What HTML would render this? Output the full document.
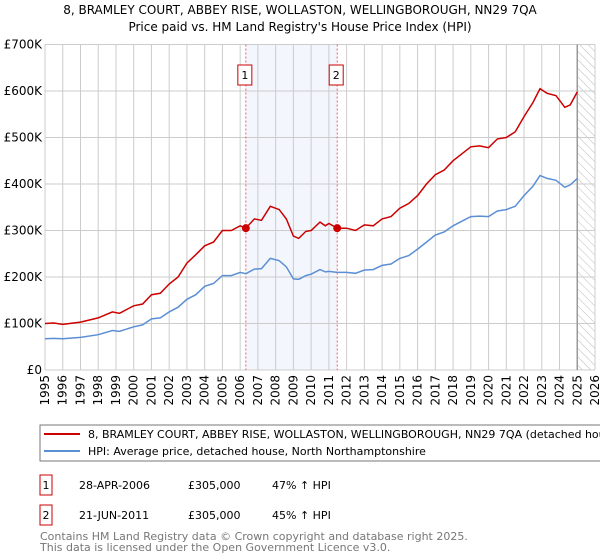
<!DOCTYPE html>
<html><head><meta charset="utf-8">
<style>
body{margin:0;background:#fff;font-family:"DejaVu Sans","Liberation Sans",sans-serif;}
#wrap{position:relative;width:600px;height:560px;overflow:hidden;}
text{font-family:"DejaVu Sans","Liberation Sans",sans-serif;}
</style></head><body>
<div id="wrap">
<svg id="chart" width="600" height="560">
<defs><pattern id="hatch" width="6" height="6" patternUnits="userSpaceOnUse" patternTransform="rotate(-45)"><line x1="0" y1="0" x2="0" y2="6" stroke="#bbb" stroke-width="1"/></pattern></defs>
<text x="300" y="14" text-anchor="middle" font-size="12" fill="#000">8, BRAMLEY COURT, ABBEY RISE, WOLLASTON, WELLINGBOROUGH, NN29 7QA</text>
<text x="300" y="31" text-anchor="middle" font-size="12" fill="#000">Price paid vs. HM Land Registry's House Price Index (HPI)</text>
<g id="plot"></g>
<rect x="40" y="425" width="575" height="36" fill="#fff" stroke="#777"/>
<line x1="44" y1="434" x2="80" y2="434" stroke="#cc0000" stroke-width="2"/>
<text x="88" y="438" font-size="11">8, BRAMLEY COURT, ABBEY RISE, WOLLASTON, WELLINGBOROUGH, NN29 7QA (detached house)</text>
<line x1="44" y1="451" x2="80" y2="451" stroke="#5b8fd4" stroke-width="2"/>
<text x="88" y="455" font-size="11">HPI: Average price, detached house, North Northamptonshire</text>
<g>
<rect x="40" y="475" width="12" height="20" fill="#fff" stroke="#cc0000"/>
<text x="46" y="489" font-size="11" text-anchor="middle">1</text>
<text x="79" y="489" font-size="11">28-APR-2006</text>
<text x="188" y="489" font-size="11">£305,000</text>
<text x="272" y="489" font-size="11">47% ↑ HPI</text></g>
<g>
<rect x="40" y="505" width="12" height="20" fill="#fff" stroke="#cc0000"/>
<text x="46" y="519" font-size="11" text-anchor="middle">2</text>
<text x="79" y="519" font-size="11">21-JUN-2011</text>
<text x="188" y="519" font-size="11">£305,000</text>
<text x="272" y="519" font-size="11">45% ↑ HPI</text></g>
<text x="40" y="540" font-size="11" fill="#777">Contains HM Land Registry data © Crown copyright and database right 2025.</text>
<text x="40" y="551" font-size="11" fill="#777">This data is licensed under the Open Government Licence v3.0.</text>
</svg>
</div>
<script>
const years=[1995,1995.5,1996,1997,1998,1998.8,1999.2,2000,2000.5,2001,2001.5,2002,2002.5,2003,2003.5,2004,2004.5,2005,2005.5,2006,2006.32,2006.8,2007.2,2007.7,2008.2,2008.6,2009,2009.3,2009.7,2010,2010.5,2010.8,2011,2011.47,2012,2012.5,2013,2013.5,2014,2014.5,2015,2015.5,2016,2016.5,2017,2017.5,2018,2018.5,2019,2019.5,2020,2020.5,2021,2021.5,2022,2022.5,2022.9,2023.3,2023.8,2024.3,2024.6,2025];
const propertyValues=[100,101,98,103,112,125,122,138,142,162,165,185,200,230,248,267,275,300,300,310,305,325,322,352,345,325,288,283,298,300,318,310,315,305,305,300,312,310,325,330,348,358,375,400,420,430,450,465,480,482,478,497,500,512,545,575,605,595,590,565,570,598];
const hpiValues=[67,68,67,70,76,85,83,93,97,110,112,125,135,152,162,180,186,203,203,210,207,217,218,240,235,222,196,195,203,206,216,211,212,210,210,208,215,216,225,228,240,246,260,275,290,297,310,320,330,331,330,342,345,352,375,395,418,412,408,393,398,412];
const yTicks=[0,100,200,300,400,500,600,700];
const yTickLabels=["£0","£100K","£200K","£300K","£400K","£500K","£600K","£700K"];
const xTicks=[1995,1996,1997,1998,1999,2000,2001,2002,2003,2004,2005,2006,2007,2008,2009,2010,2011,2012,2013,2014,2015,2016,2017,2018,2019,2020,2021,2022,2023,2024,2025,2026];
const sales=[{t:2006.32,v:305,label:"1"},{t:2011.47,v:305,label:"2"}];

const X0=45,X1=595,Y0=370,Y1=44.5,T0=1995,T1=2026,V1=700;
const xs=t=>X0+(t-T0)/(T1-T0)*(X1-X0);
const ys=v=>Y0-v/V1*(Y0-Y1);
const ns="http://www.w3.org/2000/svg";
const g=document.getElementById('plot');
function mk(tag,attrs,name){const e=document.createElementNS(ns,tag);for(const k in attrs)e.setAttribute(k,attrs[k]);


g.appendChild(e);return e;}
mk('rect',{x:xs(sales[0].t),y:Y1,width:xs(sales[1].t)-xs(sales[0].t),height:Y0-Y1,fill:'#f3f6fd'},'sale-period-shade');
mk('rect',{x:xs(2025),y:Y1,width:X1-xs(2025),height:Y0-Y1,fill:'url(#hatch)'},'forecast-hatch');
yTicks.forEach((v,i)=>{mk('line',{x1:X0,x2:X1,y1:ys(v),y2:ys(v),stroke:'#ccc'},'y-gridline');
const t=mk('text',{x:X0-3,y:ys(v)+4,'text-anchor':'end','font-size':12},'y-tick-label');t.textContent=yTickLabels[i];});
xTicks.forEach(t=>{mk('line',{x1:xs(t),x2:xs(t),y1:Y1,y2:Y0,stroke:'#ccc'},'x-gridline');
const tx=mk('text',{x:0,y:0,'text-anchor':'end','font-size':12,transform:`translate(${xs(t)+4},${Y0+5}) rotate(-90)`},'x-tick-label');tx.textContent=t;});
mk('line',{x1:xs(2025),x2:xs(2025),y1:Y1,y2:Y0,stroke:'#999',"stroke-width":1.5},'data-end-line');
sales.forEach(s=>{mk('line',{x1:xs(s.t),x2:xs(s.t),y1:Y1,y2:Y0,stroke:'#f06060','stroke-dasharray':'2,2'},'sale-marker-line');
mk('rect',{x:xs(s.t)-8,y:65,width:14,height:20,fill:'#fff',stroke:'#cc0000'},'sale-label-box');
const t=mk('text',{x:xs(s.t)-1,y:79,'text-anchor':'middle','font-size':11},'sale-label');t.textContent=s.label;});
function path(vals){return vals.map((v,i)=>(i?'L':'M')+xs(years[i]).toFixed(1)+','+ys(v).toFixed(1)).join('');}
mk('path',{d:path(hpiValues),fill:'none',stroke:'#5b8fd4','stroke-width':1.5},'hpi-line');
mk('path',{d:path(propertyValues),fill:'none',stroke:'#cc0000','stroke-width':1.5},'property-price-line');
sales.forEach(s=>mk('circle',{cx:xs(s.t),cy:ys(s.v),r:4,fill:'#cc0000'},'sale-point'));
</script>
</body></html>
